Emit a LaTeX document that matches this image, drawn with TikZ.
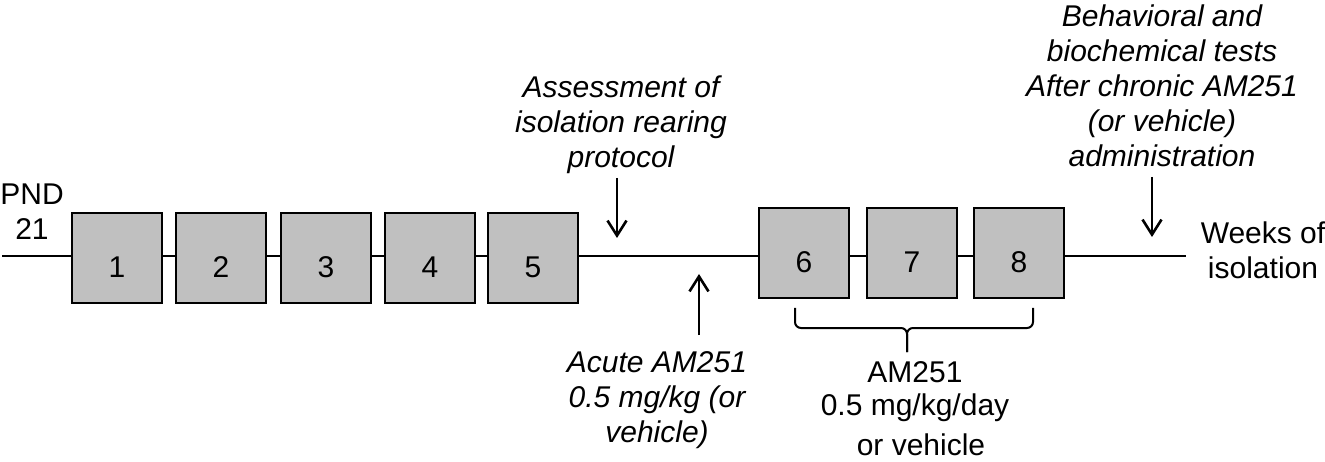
\documentclass[tikz,border=0pt]{standalone}
\usepackage{fontspec}
\setmainfont{Liberation Sans}
\usetikzlibrary{arrows.meta}
\definecolor{boxgray}{HTML}{C0C0C0}
\begin{document}
\begin{tikzpicture}[x=1pt,y=-1pt,
  txt/.style={align=center, inner sep=0pt, anchor=base, font=\fontsize{30}{35}\selectfont},
  itxt/.style={txt, font=\fontsize{30}{35}\selectfont\itshape},
  wk/.style={draw=black, line width=2.2pt, fill=boxgray, minimum width=90pt, minimum height=90pt, inner sep=0pt},
  num/.style={inner sep=0pt, font=\fontsize{30}{35}\selectfont},
  axis/.style={line width=2pt},
  pointer/.style={line width=2.6pt, -{Straight Barb[length=15pt,width=19pt,line width=2.6pt]}},
  bracepath/.style={line width=2pt, rounded corners=6pt}]
\useasboundingbox (0,0) rectangle (1325,462);

% timeline
\coordinate (start) at (2,256);
\coordinate (stop) at (1186,256);
\draw[axis] (start) -- (stop);

% week boxes
\foreach \i/\x/\y in {1/117/258, 2/221/258, 3/326/258, 4/430/258, 5/533/258, 6/804/253, 7/912/253, 8/1019/253}{
  \node[wk] (w\i) at (\x,\y) {};
  \node[num] (n\i) at ([yshift=-9pt]w\i.center) {\i};
}

% side labels
\node[txt] (pnd) at (32,240) {PND\\21};
\node[txt] (weeks) at (1263,279) {Weeks of\\isolation};

% assessment
\node[itxt] (assess) at (621,168) {Assessment of\\isolation rearing\\protocol};
\coordinate (a1s) at (617,178);
\coordinate (a1e) at (617,238);
\draw[pointer] (a1s) -- (a1e);

% acute
\node[itxt] (acute) at (657,442) {Acute AM251\\0.5 mg/kg (or\\vehicle)};
\coordinate (a2s) at (699,335);
\coordinate (a2e) at (699,274);
\draw[pointer] (a2s) -- (a2e);

% behavioral
\node[itxt] (behav) at (1162,167) {Behavioral and\\biochemical tests\\After chronic AM251\\(or vehicle)\\administration};
\coordinate (a3s) at (1152,177);
\coordinate (a3e) at (1152,237);
\draw[pointer] (a3s) -- (a3e);

% brace
\coordinate (bl) at (795,308);
\coordinate (br) at (1033,308);
\coordinate (btip) at (907,352);
\draw[bracepath] (bl) -- (795,328) -- (907,328) -- (btip);
\draw[bracepath] (br) -- (1033,328) -- (907,328) -- (btip);

\node[txt] (chronic) at (915,455) {AM251\\[-2pt]0.5 mg/kg/day\\[5pt]\hspace*{12pt}or vehicle};
\end{tikzpicture}
\end{document}
